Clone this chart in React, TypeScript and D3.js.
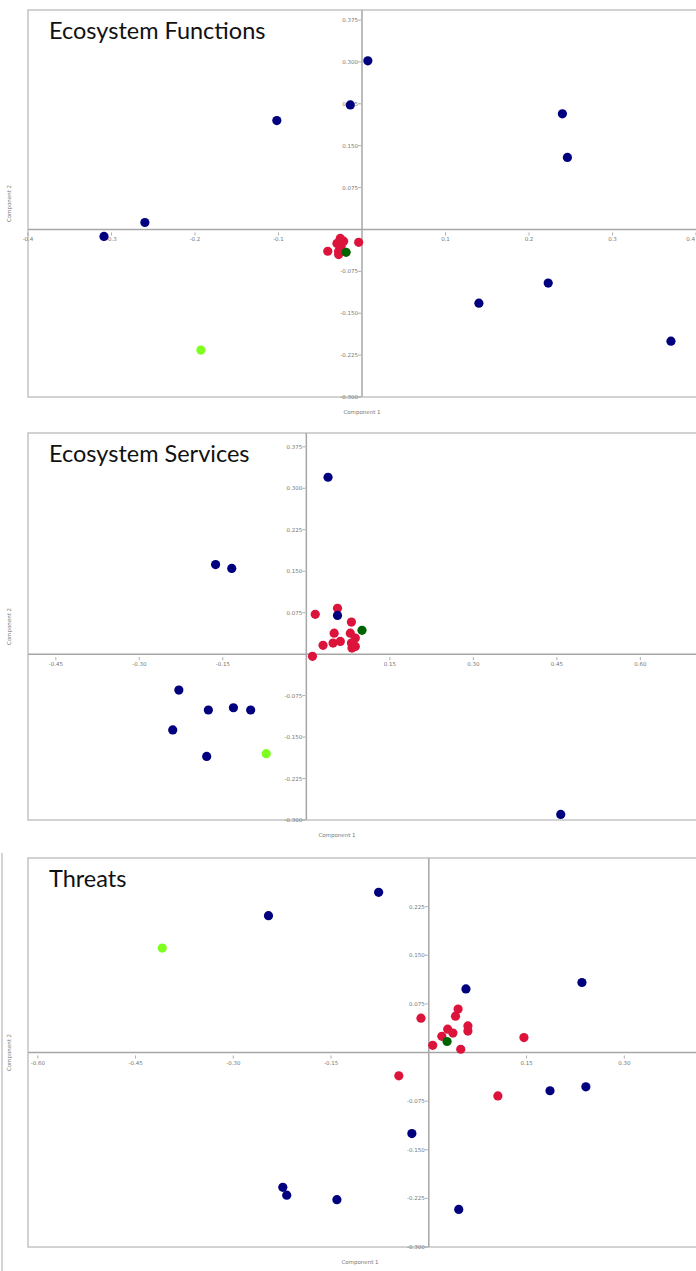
import React from "react";
import * as d3 from "d3";

type P = [number, number];

// ---------- Panel 1: Ecosystem Functions ----------
const efBlue: P[] = [
  [0.007, 0.302], [-0.014, 0.223], [-0.102, 0.195], [0.240, 0.207], [0.246, 0.129],
  [-0.260, 0.0125], [-0.309, -0.0125], [0.140, -0.132], [0.223, -0.096], [0.370, -0.200],
];
const efRed: P[] = [
  [-0.026, -0.016], [-0.022, -0.021], [-0.030, -0.025], [-0.025, -0.030], [-0.028, -0.039],
  [-0.041, -0.039], [-0.004, -0.023], [-0.028, -0.045],
];
const efDarkGreen: P[] = [[-0.019, -0.041]];
const efLightGreen: P[] = [[-0.193, -0.216]];
const efXTicks = [-0.4, -0.3, -0.2, -0.1, 0.1, 0.2, 0.3, 0.4];
const efXLabels = ["-0.4", "-0.3", "-0.2", "-0.1", "0.1", "0.2", "0.3", "0.4"];
const efYTicks = [0.375, 0.3, 0.225, 0.15, 0.075, -0.075, -0.15, -0.225, -0.3];
const efYLabels = ["0.375", "0.300", "0.225", "0.150", "0.075", "-0.075", "-0.150", "-0.225", "-0.300"];

// ---------- Panel 2: Ecosystem Services ----------
const esBlue: P[] = [
  [0.039, 0.320], [-0.163, 0.162], [-0.134, 0.155], [0.056, 0.070], [-0.229, -0.065],
  [-0.176, -0.101], [-0.131, -0.097], [-0.100, -0.101], [-0.240, -0.137], [-0.179, -0.185],
  [0.457, -0.290],
];
const esRed: P[] = [
  [0.016, 0.072], [0.056, 0.083], [0.081, 0.058], [0.050, 0.038], [0.079, 0.038],
  [0.088, 0.029], [0.061, 0.023], [0.048, 0.020], [0.030, 0.016], [0.081, 0.020],
  [0.088, 0.014], [0.082, 0.011], [0.011, -0.004],
];
const esDarkGreen: P[] = [[0.100, 0.043]];
const esLightGreen: P[] = [[-0.072, -0.180]];
const esXTicks = [-0.45, -0.3, -0.15, 0.15, 0.3, 0.45, 0.6];
const esXLabels = ["-0.45", "-0.30", "-0.15", "0.15", "0.30", "0.45", "0.60"];
const esYTicks = [0.375, 0.3, 0.225, 0.15, 0.075, -0.075, -0.15, -0.225, -0.3];
const esYLabels = ["0.375", "0.300", "0.225", "0.150", "0.075", "-0.075", "-0.150", "-0.225", "-0.300"];

// ---------- Panel 3: Threats ----------
const thBlue: P[] = [
  [-0.077, 0.247], [-0.246, 0.211], [0.057, 0.098], [0.235, 0.108], [0.186, -0.059],
  [0.241, -0.053], [-0.026, -0.125], [-0.224, -0.208], [-0.218, -0.220], [-0.141, -0.227],
  [0.046, -0.242],
];
const thRed: P[] = [
  [-0.012, 0.053], [0.045, 0.067], [0.041, 0.056], [0.060, 0.041], [0.060, 0.033],
  [0.029, 0.036], [0.037, 0.030], [0.020, 0.025], [0.006, 0.011], [0.049, 0.005],
  [0.146, 0.023], [-0.046, -0.036], [0.106, -0.067],
];
const thDarkGreen: P[] = [[0.028, 0.017]];
const thLightGreen: P[] = [[-0.409, 0.161]];
const thXTicks = [-0.6, -0.45, -0.3, -0.15, 0.15, 0.3];
const thXLabels = ["-0.60", "-0.45", "-0.30", "-0.15", "0.15", "0.30"];
const thYTicks = [0.225, 0.15, 0.075, -0.075, -0.15, -0.225, -0.3];
const thYLabels = ["0.225", "0.150", "0.075", "-0.075", "-0.150", "-0.225", "-0.300"];

const BLUE = "#00007f";
const RED = "#dc143c";
const DARKGREEN = "#006400";
const LIGHTGREEN = "#7fff1e";

interface PanelProps {
  title: string;
  top: number;
  bottom: number;
  xDomain: [number, number];
  yDomain: [number, number];
  xTicks: number[];
  xLabels: string[];
  yTicks: number[];
  yLabels: string[];
  blue: P[];
  red: P[];
  darkGreen: P[];
  lightGreen: P[];
  xLabelX: number;
}

const LEFT = 28;
const RIGHT = 696;

function Panel(p: PanelProps) {
  const x = d3.scaleLinear().domain(p.xDomain).range([LEFT, RIGHT]);
  const y = d3.scaleLinear().domain(p.yDomain).range([p.bottom, p.top]);
  const x0 = x(0);
  const y0 = y(0);
  const dot = (pts: P[], color: string, key: string) =>
    pts.map((d, i) => <circle key={key + i} cx={x(d[0])} cy={y(d[1])} r={4.6} fill={color} />);
  const tickFont = { fontFamily: "DejaVu Sans, sans-serif", fontSize: 5.5, fill: "#777" };
  return (
    <g>
      <rect x={LEFT} y={p.top} width={RIGHT - LEFT + 10} height={p.bottom - p.top} fill="#fff" stroke="#c4c4c4" strokeWidth={1.5} />
      {/* axes */}
      <line x1={LEFT} x2={RIGHT} y1={y0} y2={y0} stroke="#a6a6a6" strokeWidth={1.5} />
      <line x1={x0} x2={x0} y1={p.top} y2={p.bottom} stroke="#a6a6a6" strokeWidth={1.5} />
      {p.xTicks.map((t, i) => {
        const px = x(t);
        const anchor = px > RIGHT - 8 ? "end" : "middle";
        return (
          <g key={"xt" + i}>
            <line x1={px} x2={px} y1={y0 + 3} y2={y0 + 6} stroke="#999" strokeWidth={0.8} />
            <text x={anchor === "end" ? RIGHT - 1 : px} y={y0 + 12} textAnchor={anchor} style={tickFont}>
              {p.xLabels[i]}
            </text>
          </g>
        );
      })}
      {p.yTicks.map((t, i) => (
        <g key={"yt" + i}>
          <line x1={x0 - 4} x2={x0 - 1} y1={y(t)} y2={y(t)} stroke="#999" strokeWidth={0.8} />
          <text x={x0 - 4} y={y(t) + 2} textAnchor="end" style={tickFont}>{p.yLabels[i]}</text>
        </g>
      ))}
      <text x={p.xLabelX} y={p.bottom + 17} textAnchor="middle" style={tickFont}>Component 1</text>
      <text
        transform={`translate(11,${(p.top + p.bottom) / 2}) rotate(-90)`}
        textAnchor="middle"
        style={tickFont}
      >
        Component 2
      </text>
      <text x={49} y={p.top + 29} style={{ fontFamily: "Lato, sans-serif", fontSize: 23.5, fill: "#111" }}>
        {p.title}
      </text>
      {dot(p.red, RED, "r")}
      {dot(p.darkGreen, DARKGREEN, "dg")}
      {dot(p.blue, BLUE, "b")}
      {dot(p.lightGreen, LIGHTGREEN, "lg")}
    </g>
  );
}

export default function App() {
  return (
    <svg
      width={696}
      height={1271}
      style={{ position: "absolute", left: 0, top: 0, display: "block", background: "#fff" }}
    >
      <rect x={0} y={0} width={696} height={1271} fill="#fff" />
      <Panel
        title="Ecosystem Functions"
        top={10}
        bottom={397}
        xDomain={[-0.4, 0.4]}
        yDomain={[-0.3, 0.393]}
        xTicks={efXTicks}
        xLabels={efXLabels}
        yTicks={efYTicks}
        yLabels={efYLabels}
        blue={efBlue}
        red={efRed}
        darkGreen={efDarkGreen}
        lightGreen={efLightGreen}
        xLabelX={362}
      />
      <Panel
        title="Ecosystem Services"
        top={433}
        bottom={820}
        xDomain={[-0.5, 0.7]}
        yDomain={[-0.3, 0.4]}
        xTicks={esXTicks}
        xLabels={esXLabels}
        yTicks={esYTicks}
        yLabels={esYLabels}
        blue={esBlue}
        red={esRed}
        darkGreen={esDarkGreen}
        lightGreen={esLightGreen}
        xLabelX={337}
      />
      <line x1={2} x2={2} y1={853} y2={1271} stroke="#c4c4c4" strokeWidth={1.5} />
      <Panel
        title="Threats"
        top={858}
        bottom={1247}
        xDomain={[-0.615, 0.41]}
        yDomain={[-0.3, 0.3]}
        xTicks={thXTicks}
        xLabels={thXLabels}
        yTicks={thYTicks}
        yLabels={thYLabels}
        blue={thBlue}
        red={thRed}
        darkGreen={thDarkGreen}
        lightGreen={thLightGreen}
        xLabelX={360}
      />
    </svg>
  );
}
